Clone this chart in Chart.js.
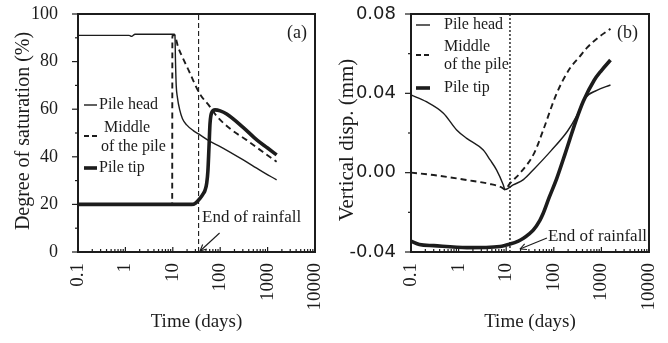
<!DOCTYPE html>
<html><head><meta charset="utf-8">
<script src="https://cdn.jsdelivr.net/npm/chart.js@4.4.1/dist/chart.umd.min.js"></script>
<style>
html,body{margin:0;padding:0;background:#fff;}
#wrap{position:relative;width:668px;height:343px;background:#fff;}
canvas{position:absolute;top:0;}
#ca{left:0;}
#cb{left:334px;}
</style></head><body>
<div id="wrap"><canvas id="ca" width="334" height="343"></canvas><canvas id="cb" width="334" height="343"></canvas></div>
<script>
// ---------- data ----------
const seriesNames = ['Pile head', 'Middle of the pile', 'Pile tip'];
const xTickValues = [0.1, 1, 10, 100, 1000, 10000];
const xTickLabels = ['0.1', '1', '10', '100', '1000', '10000'];

// (a) Degree of saturation (%)
const headA_t = [0.1, 1.2, 1.35, 1.6, 10.8, 11.1, 11.4, 11.8, 12.5, 14, 16, 19.6, 27, 35, 61, 100, 300, 700, 1550];
const headA_v = [91, 91, 90.6, 91.5, 91.5, 91, 80, 70, 65, 59.7, 56, 53.4, 51, 49.6, 46.5, 44.3, 38.8, 34.3, 30.3];
const midA_t = [0.1, 9.7, 9.8, 10.8, 13, 16.7, 22, 27, 37, 61, 85, 174, 363, 800, 1550];
const midA_v = [20, 20, 91, 91, 86, 81, 76, 72, 66.5, 61, 57, 51.3, 47, 42, 37.9];
const tipA_t = [0.1, 25, 30, 37.5, 44, 48, 52, 55, 58, 61, 66, 78, 100, 137, 300, 600, 1000, 1550];
const tipA_v = [20, 20, 20.5, 22.5, 24.5, 26, 29, 34, 44, 54, 58.5, 59.7, 59.3, 58, 52.5, 47, 43.7, 40.8];
const rainA = 35;
const yTicksA = [0, 20, 40, 60, 80, 100];
const yTickLabelsA = ['0', '20', '40', '60', '80', '100'];
const yMinorA = [10, 30, 50, 70, 90];

// (b) Vertical displacement (mm)
const headB_t = [0.1, 0.21, 0.48, 0.91, 1.48, 3.3, 4.6, 6.3, 8.7, 9.4, 14, 23, 39, 87, 195, 300, 450, 800, 1550];
const headB_v = [0.0392, 0.0358, 0.030, 0.0215, 0.0173, 0.0114, 0.0064, 0.0013, -0.0062, -0.0085, -0.0062, -0.0035, 0.002, 0.011, 0.021, 0.0285, 0.0375, 0.0415, 0.0442];
const midB_t = [0.1, 0.3, 1.48, 4.6, 8, 9.4, 12, 20, 39, 60, 115, 218, 350, 500, 900, 1550];
const midB_v = [0.0, -0.0012, -0.0037, -0.0057, -0.0074, -0.0085, -0.0054, 0.0, 0.01, 0.0215, 0.040, 0.0526, 0.0585, 0.063, 0.0685, 0.0725];
const tipB_t = [0.1, 0.15, 0.3, 1.5, 7.4, 12, 18, 23, 30, 37, 51, 60, 80, 115, 170, 218, 300, 417, 700, 1000, 1550];
const tipB_v = [-0.0345, -0.0362, -0.0368, -0.0378, -0.0372, -0.036, -0.0345, -0.0331, -0.031, -0.029, -0.024, -0.0205, -0.0125, -0.003, 0.009, 0.017, 0.027, 0.036, 0.0465, 0.0515, 0.0568];
const rainB = 12;
const yTicksB = [-0.04, 0, 0.04, 0.08];
const yTickLabelsB = ['-0.04', '0.00', '0.04', '0.08'];
const yMinorB = [-0.02, 0.02, 0.06];

// ---------- styling ----------
const INK = '#1c1c1c';
const SERIF = "'Liberation Serif', 'Times New Roman', serif";

const pts = (t, v) => t.map((x, i) => ({x, y: v[i]}));
const zeroPad = s => { s.paddingTop = 0; s.paddingBottom = 0; s.paddingLeft = 0; s.paddingRight = 0; };

const framePlugin = {
  id: 'frame',
  afterDraw(chart, args, o) {
    const {ctx, chartArea: a, scales: {x, y}} = chart;
    ctx.save();
    ctx.strokeStyle = INK;
    const seg = (x1, y1, x2, y2) => { ctx.beginPath(); ctx.moveTo(x1, y1); ctx.lineTo(x2, y2); ctx.stroke(); };
    // frame
    ctx.lineWidth = 2;
    ctx.strokeRect(a.left, a.top, a.right - a.left, a.bottom - a.top);
    // y ticks (outward)
    ctx.lineWidth = 1.2;
    o.yMajor.forEach(v => { const p = y.getPixelForValue(v); seg(a.left - 6, p, a.left, p); });
    o.yMinor.forEach(v => { const p = y.getPixelForValue(v); seg(a.left - 3, p, a.left, p); });
    // x ticks (inward)
    xTickValues.forEach(v => { const p = x.getPixelForValue(v); seg(p, a.bottom, p, a.bottom - 5); });
    xTickValues.slice(0, -1).forEach(d => {
      for (let k = 2; k <= 9; k++) { const p = x.getPixelForValue(k * d); seg(p, a.bottom, p, a.bottom - 3); }
    });
    ctx.fillStyle = INK;
    // y-axis title
    ctx.save();
    ctx.font = o.yTitle.size + 'px ' + SERIF;
    ctx.textAlign = 'center'; ctx.textBaseline = 'middle';
    ctx.translate(o.yTitle.x, (a.top + a.bottom) / 2 + o.yTitle.dy);
    ctx.rotate(-Math.PI / 2);
    ctx.fillText(o.yTitle.text, 0, 0);
    ctx.restore();
    // panel label
    ctx.font = '18px ' + SERIF;
    ctx.textAlign = 'right'; ctx.textBaseline = 'middle';
    ctx.fillText(o.panel, a.right - o.panelDx, a.top + 19);
    // legend
    const L = o.legend;
    ctx.font = '16px ' + SERIF;
    ctx.textAlign = 'left';
    L.items.forEach((it, i) => {
      const ds = chart.data.datasets[i];
      ctx.save();
      ctx.lineWidth = ds.borderWidth;
      ctx.setLineDash(ds.borderDash ? [5, 3] : []);
      seg(L.x1, it.sy, L.x2, it.sy);
      ctx.restore();
      it.lines.forEach((t, j) => ctx.fillText(t, it.tx[j], it.ty[j]));
    });
    // End of rainfall annotation
    const R = o.rain;
    const xs = x.getPixelForValue(R.t), yb = a.bottom;
    ctx.font = '17px ' + SERIF;
    ctx.fillText(R.text, xs + R.tdx, yb - R.tdy);
    ctx.lineWidth = 1.1;
    const hx = xs + R.head[0], hy = yb - R.head[1], tx = xs + R.tail[0], ty = yb - R.tail[1];
    seg(tx, ty, hx, hy);
    const ang = Math.atan2(ty - hy, tx - hx);
    [0.45, -0.45].forEach(d => seg(hx, hy, hx + 7 * Math.cos(ang + d), hy + 7 * Math.sin(ang + d)));
    ctx.restore();
  }
};

function makeChart(id, P) {
  const lineBase = {pointRadius: 0, borderColor: INK, fill: false, cubicInterpolationMode: 'monotone'};
  return new Chart(document.getElementById(id), {
    type: 'line',
    data: {
      datasets: [
        Object.assign({label: seriesNames[0], data: pts(P.head[0], P.head[1]), borderWidth: 1.4}, lineBase),
        Object.assign({label: seriesNames[1], data: pts(P.mid[0], P.mid[1]), borderWidth: 1.9, borderDash: [6, 4]}, lineBase),
        Object.assign({label: seriesNames[2], data: pts(P.tip[0], P.tip[1]), borderWidth: 3.6}, lineBase),
        {label: 'End of rainfall', data: [{x: P.rain, y: P.yMin}, {x: P.rain, y: P.yMax}], borderColor: INK,
         borderWidth: P.rainWidth, borderDash: P.rainDash, pointRadius: 0, tension: 0, fill: false}
      ]
    },
    options: {
      responsive: false, animation: false, devicePixelRatio: 1,
      layout: {padding: {left: 0, right: 19, top: 14, bottom: 0}},
      plugins: {legend: {display: false}, tooltip: {enabled: false}, frame: P.frame},
      scales: {
        x: {
          type: 'logarithmic', min: 0.1, max: 10000,
          afterBuildTicks: s => { s.ticks = xTickValues.map(v => ({value: v, major: true})); },
          afterFit: s => { s.height = 91; zeroPad(s); },
          grid: {display: false, drawTicks: false, tickLength: 0},
          border: {display: false},
          ticks: {autoSkip: false, minRotation: 90, maxRotation: 90, padding: 11, color: INK,
                  font: {family: SERIF, size: 19},
                  callback: v => { const i = xTickValues.indexOf(v); return i >= 0 ? xTickLabels[i] : ''; }},
          title: {display: true, text: 'Time (days)', color: INK, font: {family: SERIF, size: 19},
                  padding: {top: 0, bottom: 9.6}}
        },
        y: {
          type: 'linear', min: P.yMin, max: P.yMax,
          afterBuildTicks: s => { s.ticks = P.yTicks.map(v => ({value: v})); },
          afterFit: s => { s.width = P.yWidth; zeroPad(s); },
          grid: {display: false, drawTicks: false, tickLength: 0},
          border: {display: false},
          ticks: {padding: P.yPad, color: INK, font: P.yFont,
                  callback: v => { const i = P.yTicks.findIndex(t => Math.abs(t - v) < 1e-9); return i >= 0 ? P.yLabels[i] : ''; }},
          title: {display: false}
        }
      }
    },
    plugins: [framePlugin]
  });
}

makeChart('ca', {
  head: [headA_t, headA_v], mid: [midA_t, midA_v], tip: [tipA_t, tipA_v],
  rain: rainA, rainWidth: 1.1, rainDash: [5, 3],
  yMin: 0, yMax: 100, yTicks: yTicksA, yLabels: yTickLabelsA, yWidth: 78, yPad: 20,
  yFont: {family: SERIF, size: 18},
  frame: {
    panel: '(a)', panelDx: 8, yMajor: yTicksA, yMinor: yMinorA,
    yTitle: {text: 'Degree of saturation (%)', size: 20, x: 24, dy: -2},
    legend: {x1: 84, x2: 97, items: [
      {sy: 105, lines: ['Pile head'], tx: [99], ty: [105]},
      {sy: 136, lines: ['Middle', 'of the pile'], tx: [104, 101], ty: [128, 147]},
      {sy: 168, lines: ['Pile tip'], tx: [99], ty: [168]}
    ]},
    rain: {t: rainA, text: 'End of rainfall', tdx: 3.5, tdy: 34, head: [1.5, 1], tail: [21, 19]}
  }
});

makeChart('cb', {
  head: [headB_t, headB_v], mid: [midB_t, midB_v], tip: [tipB_t, tipB_v],
  rain: rainB, rainWidth: 1.4, rainDash: [2, 2],
  yMin: -0.04, yMax: 0.08, yTicks: yTicksB, yLabels: yTickLabelsB, yWidth: 77, yPad: 15,
  yFont: {family: "'DejaVu Sans', sans-serif", size: 18},
  frame: {
    panel: '(b)', panelDx: 11, yMajor: yTicksB, yMinor: yMinorB,
    yTitle: {text: 'Vertical disp. (mm)', size: 21, x: 13, dy: 7},
    legend: {x1: 82, x2: 96, items: [
      {sy: 25, lines: ['Pile head'], tx: [110], ty: [25]},
      {sy: 55, lines: ['Middle', 'of the pile'], tx: [110, 110], ty: [47, 65]},
      {sy: 88, lines: ['Pile tip'], tx: [110], ty: [88]}
    ]},
    rain: {t: rainB, text: 'End of rainfall', tdx: 38, tdy: 15, head: [10, 3], tail: [37, 14]}
  }
});
</script>
</body></html>
